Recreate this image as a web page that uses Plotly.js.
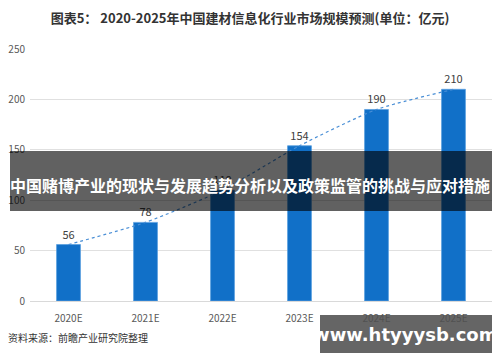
<!DOCTYPE html>
<html>
<head>
<meta charset="utf-8">
<script src="https://cdn.plot.ly/plotly-3.0.1.min.js"></script>
<style>html,body{margin:0;padding:0;background:#fff;}#chart{width:500px;height:362px;}</style>
</head>
<body>
<div id="chart"></div>
<script>
const categories = ["2020E", "2021E", "2022E", "2023E", "2024E", "2025E"];
const values = [56, 78, 110, 154, 190, 210];
const yTicks = [0, 50, 100, 150, 200, 250];
const titleText = "图表5： 2020-2025年中国建材信息化行业市场规模预测(单位：亿元)";
const sourceText = "资料来源：前瞻产业研究院整理";
const bannerText = "中国赌博产业的现状与发展趋势分析以及政策监管的挑战与应对措施";
const siteText = "www.htyyysb.com";

const font = "'Microsoft YaHei', 'Noto Sans CJK SC', 'Noto Sans', sans-serif";

const traces = [
  {
    type: "bar",
    x: categories,
    y: values,
    marker: {color: "#1170c8", line: {color: "#5a9fe0", width: 0.8}},
    text: values.map(String),
    textposition: "outside",
    textfont: {size: 11, color: "#404040", family: font},
    cliponaxis: false,
    hoverinfo: "skip"
  },
  {
    type: "scatter",
    mode: "lines",
    x: categories,
    y: values,
    line: {color: "#4a8fd6", width: 1.2, dash: "dot", shape: "spline", smoothing: 0.6},
    hoverinfo: "skip"
  }
];

const layout = {
  width: 500, height: 362,
  margin: {l: 30, r: 8, t: 49, b: 61},
  paper_bgcolor: "#ffffff",
  plot_bgcolor: "#ffffff",
  showlegend: false,
  bargap: 0.69,
  font: {family: font, color: "#595959", size: 10},
  title: {
    text: "<b>" + titleText + "</b>",
    font: {size: 13, color: "#333333", family: font},
    x: 0.5, xanchor: "center", y: 0.948, yanchor: "middle"
  },
  xaxis: {
    type: "category",
    showgrid: false,
    showline: true, linecolor: "#d9d9d9", linewidth: 1,
    ticks: "",
    ticklabelstandoff: 8,
    tickfont: {size: 10, color: "#595959"},
    fixedrange: true
  },
  yaxis: {
    range: [0, 250],
    tickvals: yTicks,
    showgrid: true, gridcolor: "#e0e0e0", gridwidth: 1,
    zeroline: false,
    showline: false,
    ticks: "",
    ticklabelstandoff: 4,
    tickfont: {size: 10, color: "#595959"},
    fixedrange: true
  },
  shapes: [
    {type: "rect", xref: "paper", yref: "paper",
     x0: -20/462, x1: 1.0, y0: (362-61-211)/252, y1: (362-61-151)/252,
     fillcolor: "rgba(0,0,0,0.62)", line: {width: 0}, layer: "above"},
    {type: "rect", xref: "paper", yref: "paper",
     x0: 290/462, x1: 1.0, y0: (301-353)/252, y1: (301-315)/252,
     fillcolor: "rgba(80,80,80,0.88)", line: {width: 0}, layer: "above"}
  ],
  annotations: [
    {text: "<b>" + bannerText + "</b>", xref: "paper", yref: "paper",
     x: (250-30)/462, y: (301-185)/252, xanchor: "center", yanchor: "middle",
     showarrow: false, font: {size: 16, color: "#ffffff", family: font}},
    {text: sourceText, xref: "paper", yref: "paper",
     x: -24/462, y: (301-337)/252, xanchor: "left", yanchor: "middle",
     showarrow: false, font: {size: 10, color: "#333333", family: font}},
    {text: "<b>" + siteText + "</b>", xref: "paper", yref: "paper",
     x: (405-30)/462, y: (301-334)/252, xanchor: "center", yanchor: "middle",
     showarrow: false, font: {size: 18, color: "#ffffff", family: "'DejaVu Sans', sans-serif"}}
  ]
};

Plotly.newPlot("chart", traces, layout, {displayModeBar: false, staticPlot: true});
</script>
</body>
</html>
